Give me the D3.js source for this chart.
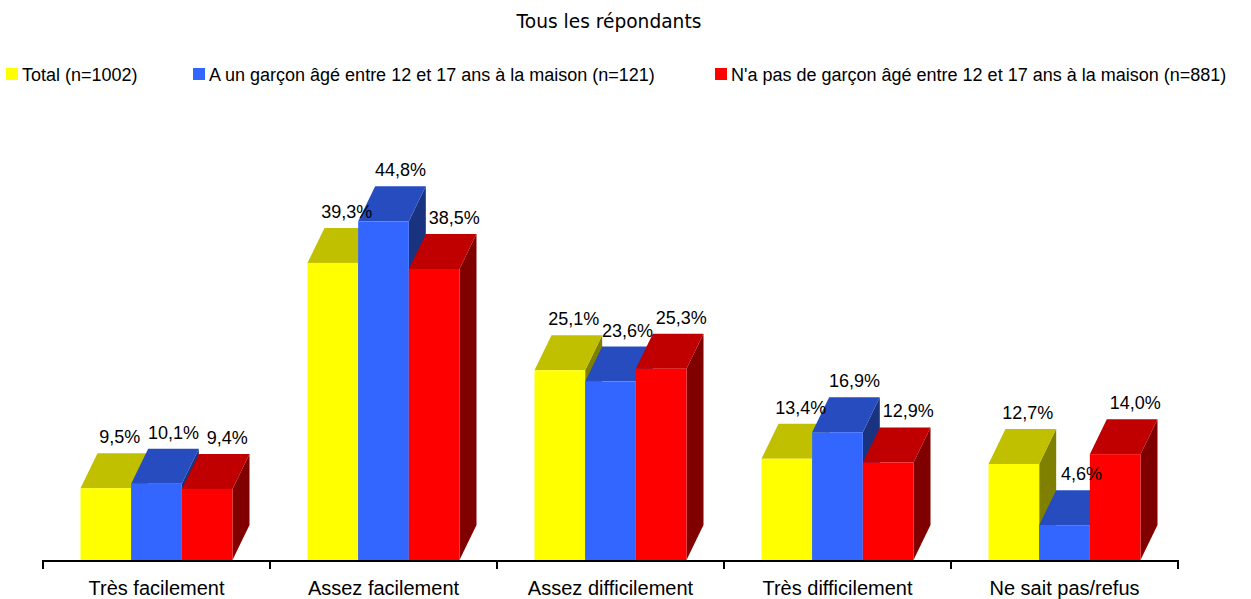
<!DOCTYPE html>
<html>
<head>
<meta charset="utf-8">
<script src="https://cdn.jsdelivr.net/npm/d3@7"></script>
<style>
  body { margin: 0; background: #fff; }
  svg { display: block; }
</style>
</head>
<body>
<div id="chart"></div>
<script>
var categories = ['Très facilement', 'Assez facilement', 'Assez difficilement', 'Très difficilement', 'Ne sait pas/refus'];
var seriesNames = ['Total (n=1002)', 'A un garçon âgé entre 12 et 17 ans à la maison (n=121)', "N'a pas de garçon âgé entre 12 et 17 ans à la maison (n=881)"];
var totalValues = [9.5, 39.3, 25.1, 13.4, 12.7];
var boyValues = [10.1, 44.8, 23.6, 16.9, 4.6];
var noBoyValues = [9.4, 38.5, 25.3, 12.9, 14.0];

var width = 1251, height = 599,
  baseY = 560,
  depthX = 17,
  depthY = 35;

// front / top / side shades per series
var shades = [
  { front: '#ffff00', top: '#c0c000', side: '#808000' },
  { front: '#3366ff', top: '#264cbf', side: '#1a3380' },
  { front: '#ff0000', top: '#c00000', side: '#800000' }
];

var values = [totalValues, boyValues, noBoyValues];

var svg = d3.select('#chart')
  .append('svg')
  .attr('width', width)
  .attr('height', height);

var x0 = d3.scaleBand()
  .domain(categories)
  .range([43, 1178]);

var x1 = d3.scaleBand()
  .domain(d3.range(seriesNames.length))
  .range([0, x0.bandwidth()])
  .paddingOuter(0.74);

var y = d3.scaleLinear()
  .domain([0, 50])
  .range([baseY, baseY - 378]);

// title
svg.append('text')
  .attr('x', 609)
  .attr('y', 28)
  .attr('text-anchor', 'middle')
  .style('font-family', 'DejaVu Sans, sans-serif')
  .style('font-size', '18.6px')
  .attr('fill', '#000')
  .text('Tous les répondants');

// legend
var legendX = [6, 193, 715];
var legend = svg.selectAll('.legend')
  .data(seriesNames)
  .enter().append('g')
  .attr('class', 'legend')
  .attr('transform', function(d, i) {
    return 'translate(' + legendX[i] + ',68)';
  });

legend.append('rect')
  .attr('width', 12)
  .attr('height', 12)
  .attr('fill', function(d, i) { return shades[i].front; });

legend.append('text')
  .attr('x', 16)
  .attr('y', 13)
  .style('font-family', 'Liberation Sans, Arial, sans-serif')
  .style('font-size', '18px')
  .text(function(d) { return d; });

// bars, drawn left to right so that each front hides the previous side
var bars = [];
categories.forEach(function(c, ci) {
  values.forEach(function(vals, si) {
    bars.push({ cat: c, ci: ci, s: si, v: vals[ci] });
  });
});

var g = svg.append('g').attr('class', 'bars');

bars.forEach(function(b) {
  var x = x0(b.cat) + x1(b.s),
    w = x1.bandwidth(),
    top = y(b.v),
    sh = shades[b.s];
  var bar = g.append('g').attr('class', 'bar');

  // side face
  bar.append('path')
    .attr('d', 'M' + (x + w) + ',' + baseY +
      'L' + (x + w) + ',' + top +
      'L' + (x + w + depthX) + ',' + (top - depthY) +
      'L' + (x + w + depthX) + ',' + (baseY - depthY) + 'Z')
    .attr('fill', sh.side);

  // top face
  bar.append('path')
    .attr('d', 'M' + x + ',' + top +
      'L' + (x + w) + ',' + top +
      'L' + (x + w + depthX) + ',' + (top - depthY) +
      'L' + (x + depthX) + ',' + (top - depthY) + 'Z')
    .attr('fill', sh.top);

  // front face
  bar.append('rect')
    .attr('x', x)
    .attr('y', top)
    .attr('width', w)
    .attr('height', baseY - top)
    .attr('fill', sh.front);
});

// value labels, above the back edge of each top face
svg.append('g').attr('class', 'labels')
  .selectAll('text')
  .data(bars)
  .enter().append('text')
  .attr('x', function(d) { return x0(d.cat) + x1(d.s) + x1.bandwidth() / 2 + 14 + 3 * d.s; })
  .attr('y', function(d) { return y(d.v) - depthY - 10; })
  .attr('text-anchor', 'middle')
  .style('font-family', 'Liberation Sans, Arial, sans-serif')
  .style('font-size', '18px')
  .text(function(d) { return d3.format('.1f')(d.v).replace('.', ',') + '%'; });

// category axis
var axis = svg.append('g').attr('class', 'axis');

axis.append('line')
  .attr('x1', x0.range()[0])
  .attr('x2', x0.range()[1])
  .attr('y1', baseY + 1)
  .attr('y2', baseY + 1)
  .attr('stroke', '#000')
  .attr('stroke-width', 2);

var tickPos = categories.map(function(c) { return x0(c); }).concat([x0.range()[1]]);
axis.selectAll('.tick')
  .data(tickPos)
  .enter().append('line')
  .attr('class', 'tick')
  .attr('x1', function(d) { return d; })
  .attr('x2', function(d) { return d; })
  .attr('y1', baseY)
  .attr('y2', baseY + 9)
  .attr('stroke', '#000')
  .attr('stroke-width', 2);

axis.selectAll('.cat')
  .data(categories)
  .enter().append('text')
  .attr('class', 'cat')
  .attr('x', function(d) { return x0(d) + x0.bandwidth() / 2; })
  .attr('y', 595)
  .attr('text-anchor', 'middle')
  .style('font-family', 'Liberation Sans, Arial, sans-serif')
  .style('font-size', '20px')
  .text(function(d) { return d; });
</script>
</body>
</html>
